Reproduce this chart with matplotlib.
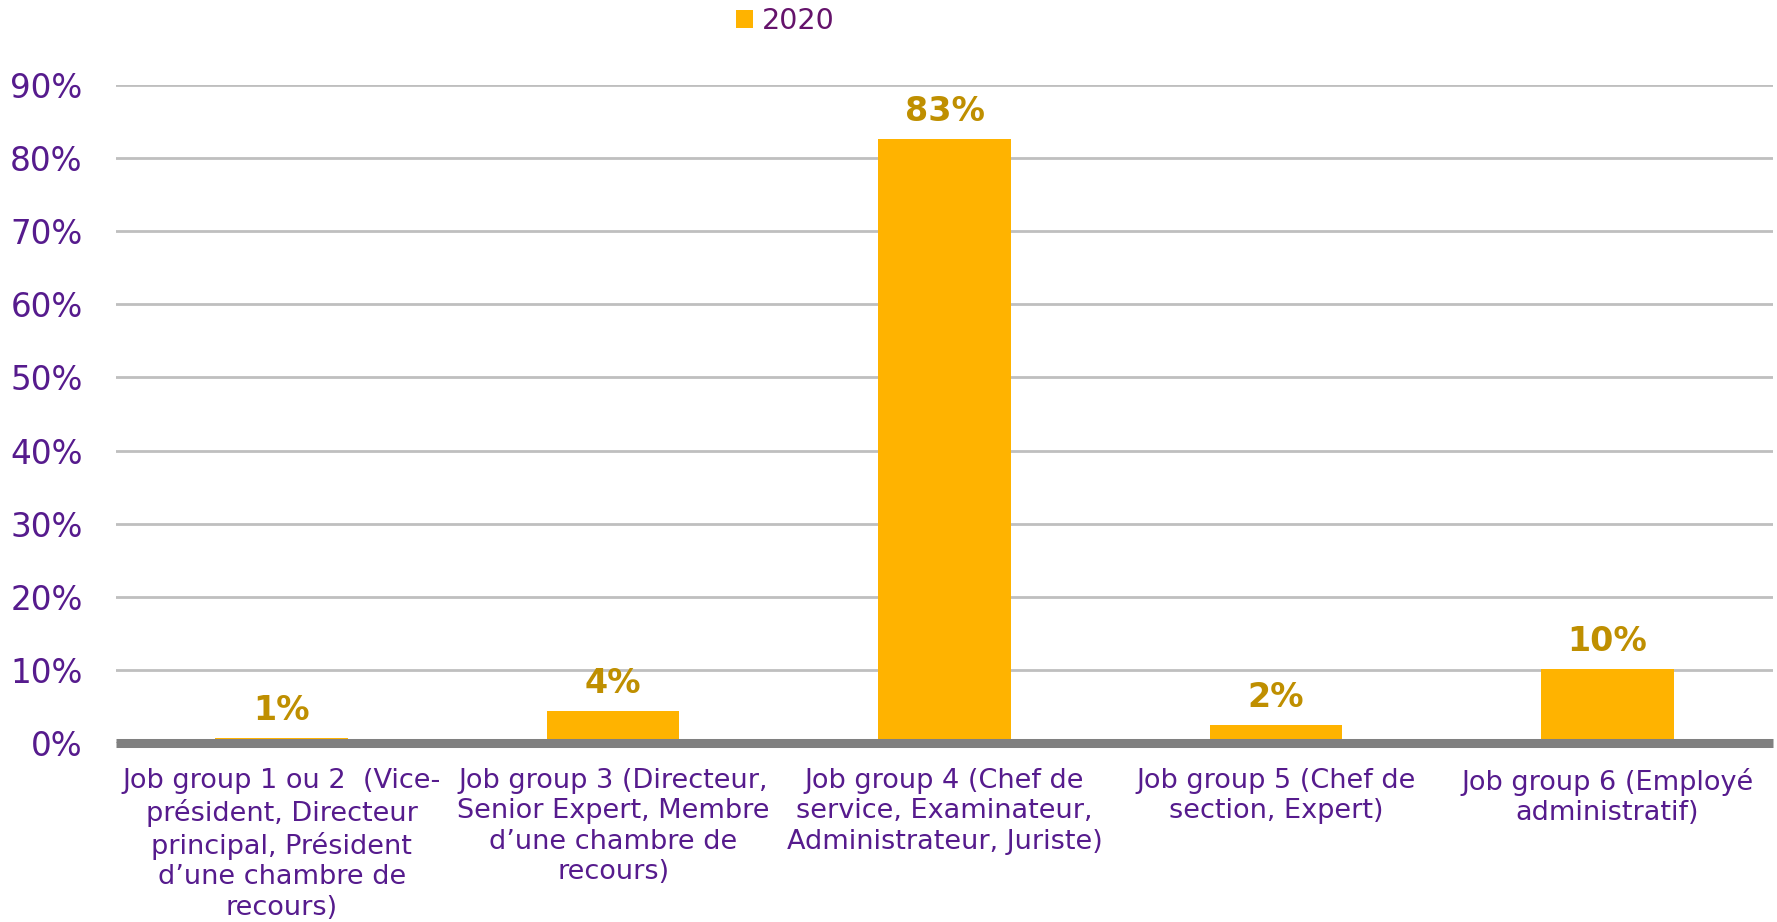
import matplotlib
matplotlib.use("Agg")
import matplotlib.pyplot as plt
from matplotlib.ticker import PercentFormatter

categories = [
    "Job group 1 ou 2  (Vice-\nprésident, Directeur\nprincipal, Président\nd\u2019une chambre de\nrecours)",
    "Job group 3 (Directeur,\nSenior Expert, Membre\nd\u2019une chambre de\nrecours)",
    "Job group 4 (Chef de\nservice, Examinateur,\nAdministrateur, Juriste)",
    "Job group 5 (Chef de\nsection, Expert)",
    "Job group 6 (Employé\nadministratif)",
]
values_2020 = [0.007, 0.044, 0.826, 0.024, 0.101]
series_name = "2020"
yticks = [0, 0.1, 0.2, 0.3, 0.4, 0.5, 0.6, 0.7, 0.8, 0.9]

BAR = "#FFB300"
LABEL = "#BF8F00"
TICK = "#561B8D"
LEG = "#65136B"

plt.rcParams['font.family'] = ['DejaVu Sans']
fig = plt.figure(figsize=(17.77, 9.22), dpi=100)
ax = fig.add_axes([0.0653, 0.1941, 0.9324, 0.7137])

x = list(range(len(categories)))
bars = ax.bar(x, values_2020, width=0.4, color=BAR, label=series_name, zorder=2)
ax.set_xlim(-0.5, len(categories) - 0.5)
ax.set_ylim(0, 0.9)
ax.set_yticks(yticks)
ax.yaxis.set_major_formatter(PercentFormatter(1.0, decimals=0))
ax.grid(axis='y', color='#BFBFBF', linewidth=2, zorder=0)
ax.set_axisbelow(True)
for s in ax.spines.values():
    s.set_visible(False)
ax.axhline(0, color='#808080', linewidth=6.5, zorder=3, clip_on=False,
           solid_capstyle='butt')

ax.set_xticks(x)
ax.set_xticklabels(categories, fontsize=19.5, color=TICK, linespacing=1.22, va='top')
ax.tick_params(axis='x', length=0, pad=18)
ax.tick_params(axis='y', length=0, pad=24, labelsize=23.5, labelcolor=TICK)

for b, v in zip(bars, values_2020):
    ax.annotate(f"{v*100:.0f}%", (b.get_x() + b.get_width() / 2, v),
                xytext=(0, 8), textcoords='offset points', ha='center', va='bottom',
                fontsize=24, fontweight='bold', color=LABEL)

leg = ax.legend(loc='center', bbox_to_anchor=(0.404, 1.097), frameon=False,
                fontsize=20.5, handlelength=0.6, handleheight=0.6, handletextpad=0.3,
                borderaxespad=0)
for t in leg.get_texts():
    t.set_color(LEG)

fig.savefig("out.png", dpi=100, facecolor='white')
